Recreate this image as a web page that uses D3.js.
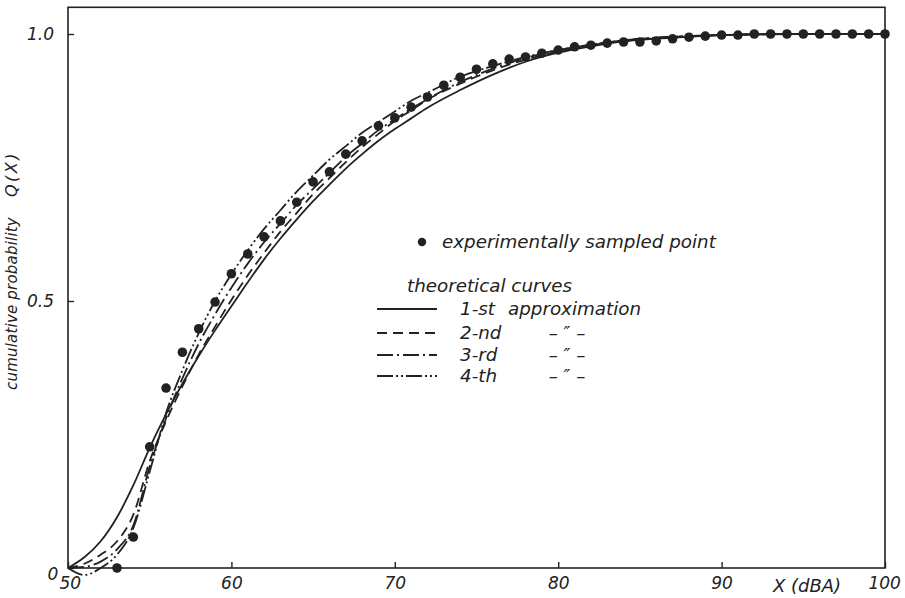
<!DOCTYPE html>
<html>
<head>
<meta charset="utf-8">
<script src="https://cdn.jsdelivr.net/npm/d3@7"></script>
<style>
  html, body { margin: 0; padding: 0; background: #fff; }
  svg text { font-family: "DejaVu Sans", sans-serif; font-style: oblique; fill: #222; }
</style>
</head>
<body>
<div id="chart"></div>
<script>
// experimentally sampled points (X in dBA, Q(X))
const sampleX = [53, 54, 55, 56, 57, 58, 59, 60, 61, 62, 63, 64, 65, 66, 67, 68, 69, 70,
  71, 72, 73, 74, 75, 76, 77, 78, 79, 80, 81, 82, 83, 84, 85, 86, 87, 88, 89, 90,
  91, 92, 93, 94, 95, 96, 97, 98, 99, 100];
const sampleQ = [0.0, 0.058, 0.227, 0.337, 0.404, 0.448, 0.498, 0.551, 0.588, 0.620, 0.650,
  0.685, 0.723, 0.742, 0.775, 0.800, 0.828, 0.843, 0.863, 0.882, 0.904, 0.919, 0.934,
  0.944, 0.953, 0.957, 0.964, 0.970, 0.976, 0.979, 0.983, 0.985, 0.985, 0.987, 0.991,
  0.994, 0.996, 0.998, 0.998, 1.0, 1.0, 1.0, 1.0, 1.0, 1.0, 1.0, 1.0, 1.0];

// theoretical curves, read at these X values
const curveX = [50, 51, 52, 53, 54, 55, 56, 57, 58, 59, 60, 61, 62, 63, 64, 65, 66, 67, 68,
  69, 70, 71, 72, 74, 76, 78, 80, 82, 84, 87, 90, 95, 100];
const approx1 = [0, 0.02, 0.05, 0.095, 0.155, 0.225, 0.288, 0.345, 0.397, 0.445, 0.49, 0.535,
  0.578, 0.617, 0.653, 0.687, 0.718, 0.748, 0.775, 0.8, 0.822, 0.842, 0.862, 0.895, 0.924,
  0.948, 0.965, 0.977, 0.986, 0.993, 0.998, 1, 1];
const approx2 = [0, 0.008, 0.025, 0.05, 0.1, 0.2, 0.275, 0.34, 0.4, 0.452, 0.502, 0.548,
  0.59, 0.63, 0.665, 0.7, 0.73, 0.76, 0.788, 0.813, 0.837, 0.857, 0.877, 0.907, 0.932,
  0.952, 0.967, 0.979, 0.987, 0.994, 0.998, 1, 1];
const approx3 = [0, 0.002, 0.012, 0.035, 0.08, 0.19, 0.28, 0.355, 0.42, 0.475, 0.525, 0.57,
  0.61, 0.645, 0.68, 0.71, 0.74, 0.77, 0.795, 0.82, 0.84, 0.86, 0.878, 0.91, 0.935, 0.955,
  0.97, 0.98, 0.988, 0.995, 0.998, 1, 1];
const approx4 = [0, -0.013, 0.0, 0.025, 0.075, 0.18, 0.29, 0.37, 0.44, 0.5, 0.55, 0.595,
  0.635, 0.67, 0.705, 0.735, 0.765, 0.79, 0.815, 0.835, 0.855, 0.875, 0.89, 0.92, 0.94,
  0.957, 0.97, 0.98, 0.988, 0.995, 0.998, 1, 1];

const curveNames = ["1-st", "2-nd", "3-rd", "4-th"];
const curveTail = ["approximation", "– \u2033 –", "– \u2033 –", "– \u2033 –"];
const curveDash = [null, "10,6", "16,4,2,4", "16,3,2,3,2,3"];

const xTicks = [50, 60, 70, 80, 90, 100];
const yTicks = [0, 0.5, 1.0];
const yTickLabels = ["0", "0.5", "1.0"];

const width = 905, height = 598;
const ink = "#222";
const legendFont = "18.3px";

const svg = d3.select("#chart").append("svg")
    .attr("width", width)
    .attr("height", height);

const x = d3.scaleLinear().domain([50, 100]).range([68, 885]);
const y = d3.scaleLinear().domain([0, 1]).range([568, 34]);

// frame
svg.append("rect")
    .attr("x", x(50)).attr("y", y(1.05))
    .attr("width", x(100) - x(50)).attr("height", y(0) - y(1.05))
    .attr("fill", "none").attr("stroke", ink).attr("stroke-width", 1.6);

// x axis with inward ticks
const xAxis = svg.append("g")
    .attr("transform", `translate(0,${y(0)})`)
    .call(d3.axisBottom(x).tickValues(xTicks).tickSize(-6).tickPadding(9)
        .tickFormat(d => d));
xAxis.select(".domain").remove();
xAxis.selectAll("line").attr("stroke", ink).attr("stroke-width", 1.4);
xAxis.selectAll("text").style("font-size", "17px").attr("fill", ink)
    .attr("font-family", null);
xAxis.selectAll(".tick").filter(d => d === 50).select("text").attr("dx", "0.1em");
xAxis.selectAll(".tick").filter(d => d === 100).select("text").attr("dx", "-0.05em");

svg.append("text")
    .attr("x", 807).attr("y", y(0) + 24)
    .attr("text-anchor", "middle")
    .style("font-size", "18px")
    .text("X (dBA)");

// y axis with inward ticks
const yAxis = svg.append("g")
    .attr("transform", `translate(${x(50)},0)`)
    .call(d3.axisLeft(y).tickValues(yTicks).tickSize(-6).tickPadding(14)
        .tickFormat((d, i) => yTickLabels[i]));
yAxis.select(".domain").remove();
yAxis.selectAll("line").attr("stroke", ink).attr("stroke-width", 1.4);
yAxis.selectAll("text").style("font-size", "17px").attr("fill", ink)
    .attr("font-family", null);
yAxis.selectAll(".tick").filter(d => d === 0).select("text")
    .attr("dy", "0.7em").attr("dx", "0.25em");

svg.append("text")
    .attr("transform", "translate(17,390) rotate(-90)")
    .style("font-size", "15px")
    .style("letter-spacing", "0.2px")
    .text("cumulative probability");
svg.append("text")
    .attr("transform", "translate(17,197) rotate(-90)")
    .style("font-size", "16px")
    .style("letter-spacing", "2.5px")
    .text("Q(X)");

// theoretical curves
const series = [approx1, approx2, approx3, approx4];
const line = d3.line()
    .x(d => x(d[0]))
    .y(d => y(d[1]))
    .curve(d3.curveMonotoneX);

series.forEach((vals, i) => {
    svg.append("path")
        .datum(curveX.map((cx, j) => [cx, vals[j]]))
        .attr("d", line)
        .attr("fill", "none")
        .attr("stroke", ink)
        .attr("stroke-width", 1.8)
        .attr("stroke-dasharray", curveDash[i]);
});

// sampled points
svg.append("g").selectAll("circle")
    .data(sampleX.map((sx, i) => [sx, sampleQ[i]]))
    .join("circle")
    .attr("cx", d => x(d[0]))
    .attr("cy", d => y(d[1]))
    .attr("r", 4.8)
    .attr("fill", ink);

// legend
const legend = svg.append("g");
legend.append("circle").attr("cx", 422).attr("cy", 242).attr("r", 4.2).attr("fill", ink);
legend.append("text").attr("x", 442).attr("y", 248)
    .style("font-size", legendFont).text("experimentally sampled point");
legend.append("text").attr("x", 407).attr("y", 292)
    .style("font-size", legendFont).text("theoretical curves");

const rowY = [309, 333, 355, 376];
curveNames.forEach((name, i) => {
    legend.append("line")
        .attr("x1", 377).attr("x2", 437)
        .attr("y1", rowY[i]).attr("y2", rowY[i])
        .attr("stroke", ink).attr("stroke-width", 1.8)
        .attr("stroke-dasharray", curveDash[i]);
    legend.append("text").attr("x", 460).attr("y", rowY[i] + 6)
        .style("font-size", legendFont).text(name);
    legend.append("text")
        .attr("x", i === 0 ? 508 : 567).attr("y", rowY[i] + 6)
        .attr("text-anchor", i === 0 ? "start" : "middle")
        .style("font-size", legendFont).text(curveTail[i]);
});
</script>
</body>
</html>
